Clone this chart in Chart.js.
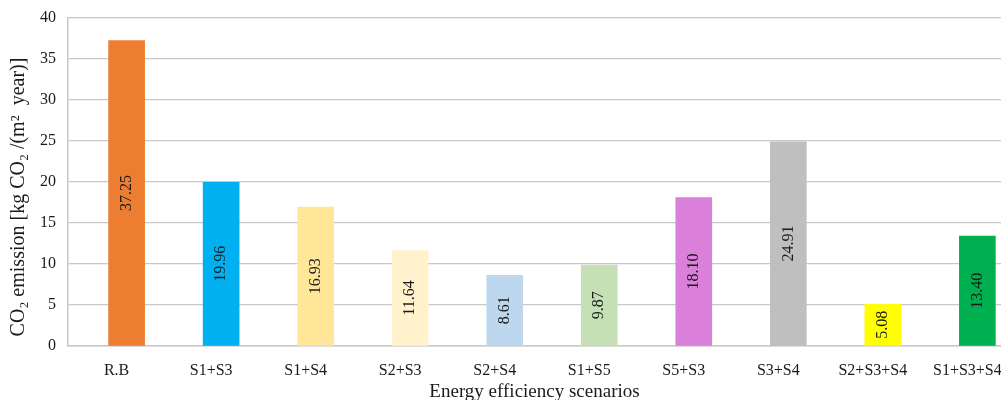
<!DOCTYPE html>
<html>
<head>
<meta charset="utf-8">
<script src="https://cdn.jsdelivr.net/npm/chart.js@4/dist/chart.umd.min.js"></script>
<style>
  html, body { margin: 0; padding: 0; background: #fff; overflow: hidden; }
  #wrap { width: 1001px; height: 400px; overflow: hidden; }
</style>
</head>
<body>
<div id="wrap"><canvas id="co2Chart" width="1001" height="410"></canvas></div>
<script>
// CO2 emission per scenario
var scenarios = ['R.B', 'S1+S3', 'S1+S4', 'S2+S3', 'S2+S4', 'S1+S5', 'S5+S3', 'S3+S4', 'S2+S3+S4', 'S1+S3+S4'];
var emissions = [37.25, 19.96, 16.93, 11.64, 8.61, 9.87, 18.10, 24.91, 5.08, 13.40];
var barColors = ['#ED7D31', '#00B0F0', '#FFE699', '#FFF2CC', '#BDD7EE', '#C5E0B4', '#DA7FDA', '#BFBFBF', '#FFFF00', '#00B050'];
var yTicks = [0, 5, 10, 15, 20, 25, 30, 35, 40];

var serif = "'Liberation Serif', 'Times New Roman', serif";
var gridColor = '#c8c8c8';

// values written vertically in the middle of each bar
var barValueLabels = {
    id: 'barValueLabels',
    afterDatasetsDraw: function(chart) {
        var ctx = chart.ctx;
        var meta = chart.getDatasetMeta(0);
        ctx.save();
        ctx.font = '16px ' + serif;
        ctx.fillStyle = '#1a1a1a';
        ctx.textAlign = 'center';
        ctx.textBaseline = 'middle';
        meta.data.forEach(function(bar, i) {
            ctx.save();
            ctx.translate(bar.x, (bar.y + bar.base) / 2);
            ctx.rotate(-Math.PI / 2);
            ctx.fillText(emissions[i].toFixed(2), 0, 0);
            ctx.restore();
        });
        ctx.restore();
    }
};

var ctx = document.getElementById('co2Chart').getContext('2d');
new Chart(ctx, {
    type: 'bar',
    data: {
        datasets: [{
            data: emissions.map(function(v, i) { return { x: i, y: v }; }),
            backgroundColor: barColors,
            borderWidth: 0,
            barThickness: 36
        }]
    },
    options: {
        responsive: false,
        animation: false,
        layout: { padding: { top: 18, left: 0, right: 0, bottom: 0 } },
        plugins: { legend: { display: false }, tooltip: { enabled: false } },
        scales: {
            x: {
                type: 'linear',
                min: -0.62,
                max: 9.25,
                offset: false,
                grid: { display: false, offset: false },
                border: { display: true, color: gridColor, width: 1.5 },
                ticks: {
                    stepSize: 1,
                    includeBounds: false,
                    autoSkip: false,
                    maxRotation: 0,
                    minRotation: 0,
                    padding: 7,
                    labelOffset: -10,
                    color: '#1a1a1a',
                    font: { family: serif, size: 16 },
                    callback: function(v) { return scenarios[v] !== undefined ? scenarios[v] : ''; }
                },
                title: {
                    display: true,
                    text: 'Energy efficiency scenarios',
                    color: '#1a1a1a',
                    font: { family: serif, size: 19 },
                    padding: { top: 4, bottom: 7 }
                },
                afterFit: function(scale) {
                    scale.height = 64;
                    scale.paddingLeft = 0;
                    scale.paddingRight = 0;
                }
            },
            y: {
                min: 0,
                max: 40,
                grid: { color: gridColor, lineWidth: 1.3, drawTicks: false },
                border: { display: true, color: gridColor, width: 1.5 },
                afterBuildTicks: function(scale) {
                    scale.ticks = yTicks.map(function(v) { return { value: v }; });
                },
                ticks: {
                    padding: 12,
                    color: '#1a1a1a',
                    font: { family: serif, size: 16 }
                },
                title: {
                    display: true,
                    // trailing spaces push the title a little lower along the axis
                    text: 'CO\u2082 emission [kg CO\u2082 /(m\u00B2  year)]\u2003\u2002',
                    color: '#1a1a1a',
                    font: { family: serif, size: 20 },
                    padding: { top: 7, bottom: 0 }
                },
                afterFit: function(scale) {
                    scale.width = 68;
                    scale.paddingTop = 0;
                    scale.paddingBottom = 0;
                }
            }
        }
    },
    plugins: [barValueLabels]
});
</script>
</body>
</html>
